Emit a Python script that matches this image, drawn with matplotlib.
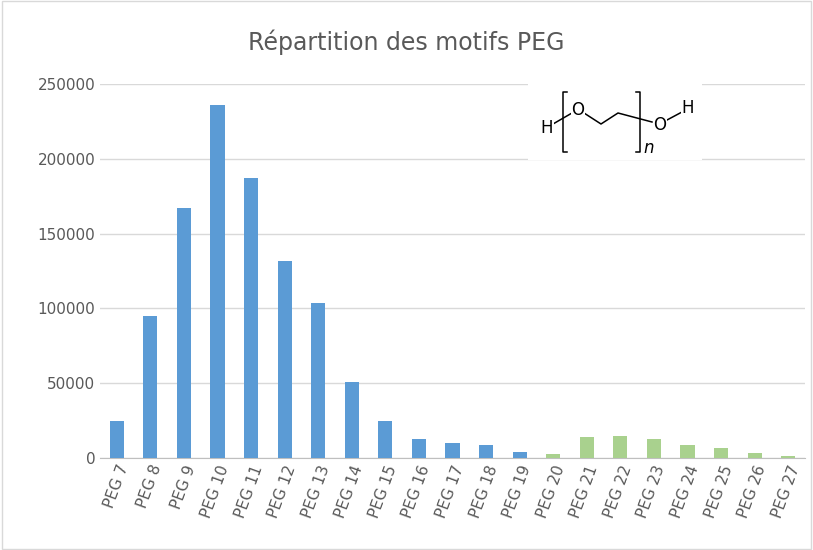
import matplotlib
matplotlib.use("Agg")
import matplotlib.pyplot as plt

labels = [f"PEG {n}" for n in range(7, 28)]
values = [25000, 95000, 167000, 236000, 187000, 131500, 103500, 50500, 24500,
          12500, 10000, 8500, 4000, 2500, 14000, 14500, 12500, 8500, 6500, 3500, 1500]
n_blue = 13  # PEG 7 .. PEG 19 in blue, rest green

W, H = 813, 550
fig = plt.figure(figsize=(W / 100, H / 100), dpi=100)
fig.patches.append(plt.Rectangle((0.002, 0.002), 0.996, 0.996, transform=fig.transFigure,
                                 fill=False, ec="#d9d9d9", lw=1))
ax = fig.add_axes([100 / W, 1 - 458 / H, 705 / W, 374 / H])
colors = ["#5b9bd5"] * n_blue + ["#a9d18e"] * (len(values) - n_blue)
ax.bar(range(len(values)), values, width=0.42, color=colors, zorder=3)
ax.set_xlim(-0.5, len(values) - 0.5)
ax.set_ylim(0, 250000)
ax.set_yticks(range(0, 250001, 50000))
ax.yaxis.grid(True, color="#d9d9d9", lw=1, zorder=0)
for s in ["top", "right", "left"]:
    ax.spines[s].set_visible(False)
ax.spines["bottom"].set_color("#bfbfbf")
ax.tick_params(length=0, labelsize=11, colors="#595959")
ax.set_xticks(range(len(values)))
ax.set_xticklabels(labels, rotation=70, ha="right", rotation_mode="anchor")
fig.text(0.5, 1 - 42 / H, "Répartition des motifs PEG", ha="center", va="center",
         fontsize=17, color="#595959")

# PEG structure inset (white box hides the gridline), drawn in pixel coordinates
ins = fig.add_axes([528 / W, 1 - 160 / H, 174 / W, 92 / H])
ins.set_xlim(528, 702)
ins.set_ylim(160, 68)
ins.set_xticks([])
ins.set_yticks([])
for s in ins.spines.values():
    s.set_visible(False)
ins.set_facecolor("white")
k = dict(color="black", lw=1.1)
ins.plot([553, 572], [124, 113], **k)
ins.plot([584, 601, 618, 652], [113, 124, 113, 122], **k)
ins.plot([667, 682], [120, 112], **k)
ins.plot([567, 563, 563, 567], [92, 92, 152, 152], **k)
ins.plot([636, 640, 640, 636], [92, 92, 152, 152], **k)
for x, y, t in [(547, 128, "H"), (578, 110, "O"), (660, 125, "O"), (688, 108, "H")]:
    ins.text(x, y, t, ha="center", va="center", fontsize=12,
             bbox=dict(fc="white", ec="none", pad=0.5))
ins.text(649, 148, "n", ha="center", va="center", fontsize=12, style="italic")

fig.savefig("out.png", dpi=100)
